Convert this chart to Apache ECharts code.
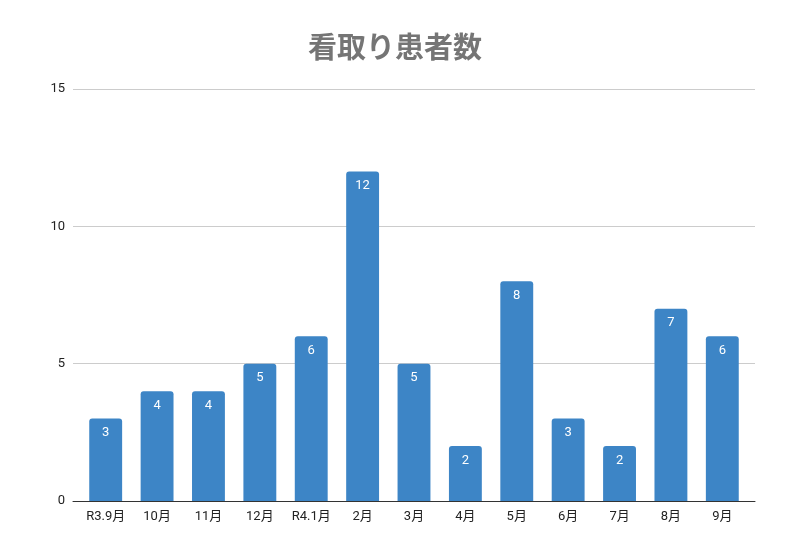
<!DOCTYPE html>
<html>
<head>
<meta charset="utf-8">
<script src="https://cdn.jsdelivr.net/npm/echarts@6/dist/echarts.min.js"></script>
<style>html,body{margin:0;padding:0;background:#fff}#c{width:800px;height:550px}</style>
</head>
<body>
<div id="c"></div>
<script>
const categories = ['R3.9月','10月','11月','12月','R4.1月','2月','3月','4月','5月','6月','7月','8月','9月'];
const values = [3,4,4,5,6,12,5,2,8,3,2,7,6];
const yTicks = [0,5,10,15];

const chart = echarts.init(document.getElementById('c'));
chart.setOption({
  animation: false,
  title: {
    text: '看取り患者数',
    left: 390,
    textAlign: 'center',
    top: 27,
    textStyle: {fontFamily: 'Noto Sans CJK JP', fontSize: 29, fontWeight: 'bold', color: '#757575'}
  },
  grid: [
    {left: 73, right: 45, top: 89, bottom: 49},
    {left: 80, right: 52, top: 89, bottom: 49}
  ],
  xAxis: [
    {
      type: 'category', gridIndex: 0, data: categories,
      axisLine: {lineStyle: {color: '#333', width: 1}},
      axisTick: {show: false}, axisLabel: {show: false}
    },
    {
      type: 'category', gridIndex: 1, data: categories,
      axisLine: {show: false},
      axisTick: {show: false},
      axisLabel: {color: '#222', fontSize: 13, fontFamily: 'Roboto, Noto Sans CJK JP', margin: 9}
    }
  ],
  yAxis: [
    {
      type: 'value', gridIndex: 0,
      min: yTicks[0], max: yTicks[yTicks.length - 1], interval: 5,
      axisLine: {show: false}, axisTick: {show: false},
      splitLine: {lineStyle: {color: '#cccccc'}},
      axisLabel: {color: '#222', fontSize: 13, fontFamily: 'Roboto', margin: 8}
    },
    {
      type: 'value', gridIndex: 1,
      min: yTicks[0], max: yTicks[yTicks.length - 1], interval: 5,
      axisLine: {show: false}, axisTick: {show: false},
      splitLine: {show: false}, axisLabel: {show: false}
    }
  ],
  series: [{
    type: 'bar',
    xAxisIndex: 1, yAxisIndex: 1,
    data: values,
    barWidth: '64%',
    itemStyle: {color: '#3d85c6', borderRadius: [3,3,0,0]},
    label: {
      show: true,
      position: 'insideTop',
      distance: 8,
      color: '#ffffff',
      fontSize: 13,
      fontFamily: 'Roboto'
    }
  }]
});
</script>
</body>
</html>
